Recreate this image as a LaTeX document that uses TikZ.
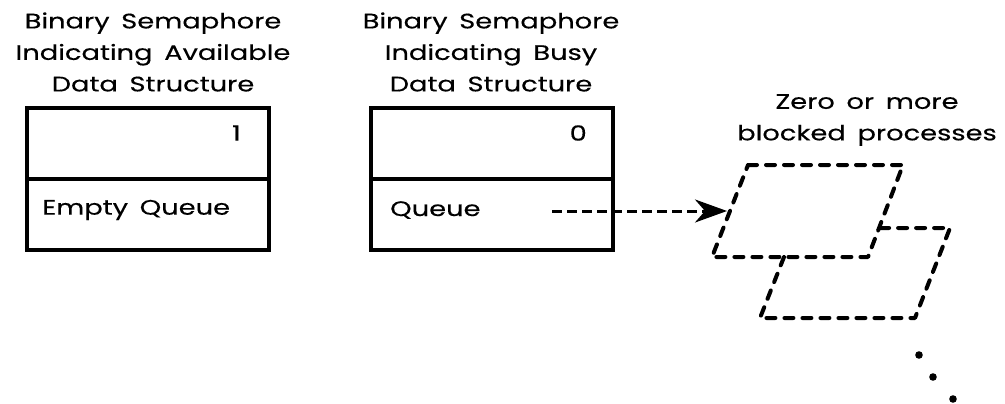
\documentclass[tikz,border=0pt]{standalone}
\usepackage{fontspec}
\setmainfont{Poppins}[FakeStretch=1.3, WordSpace=1.6, FakeBold=0.3]
\usetikzlibrary{arrows.meta}
\begin{document}
\begin{tikzpicture}[x=1pt,y=-1pt,
  cell/.style={draw, line width=3.4pt, minimum width=242pt, minimum height=71pt, inner sep=0pt},
  title/.style={font=\fontsize{21}{31.5}\selectfont, align=center, inner sep=0pt},
  txt/.style={font=\fontsize{21}{25}\selectfont, inner sep=0pt},
  dsh/.style={line width=4pt, dash pattern=on 9pt off 9pt, line cap=round, line join=round},
  dot/.style={fill=black, draw=none}]
\useasboundingbox (0,0) rectangle (1005,404);

% available semaphore
\node[title] (t1) at (153,52) {Binary Semaphore\\Indicating Available\\Data Structure};
\node[cell] (a1) at (148,143.5) {};
\node[cell] (a2) at (148,214.5) {};
\node[txt, anchor=east] (v1) at (241,133) {1};
\node[txt, anchor=west] (q1) at (42,210) {Empty Queue};

% busy semaphore
\node[title] (t2) at (491,52) {Binary Semaphore\\Indicating Busy\\Data Structure};
\node[cell] (b1) at (492,143.5) {};
\node[cell] (b2) at (492,214.5) {};
\node[txt, anchor=east] (v2) at (587,133) {0};
\node[txt, anchor=west] (q2) at (390,210) {Queue};

% blocked processes
\node[title] (t3) at (867,120) {Zero or more\\blocked processes};

\coordinate (qsrc) at (552,211);
\coordinate (p1in) at (727,211);

% second process (partly hidden behind the first)
\draw[dsh] (784,257) -- (760,318) -- (915,318) -- (950,228) -- (879,228);
% first process
\draw[dsh] (748,165) -- (903,165) -- (868,257) -- (712,257) -- cycle;

% queue link
\draw[line width=3pt, dash pattern=on 10pt off 5pt,
  -{Stealth[length=32pt, width=23pt, inset=10pt]}] (qsrc) -- (p1in);

% continuation dots
\fill[dot] (919,355) circle (3.8);
\fill[dot] (933,377) circle (3.8);
\fill[dot] (953,399) circle (3.8);
\end{tikzpicture}
\end{document}
